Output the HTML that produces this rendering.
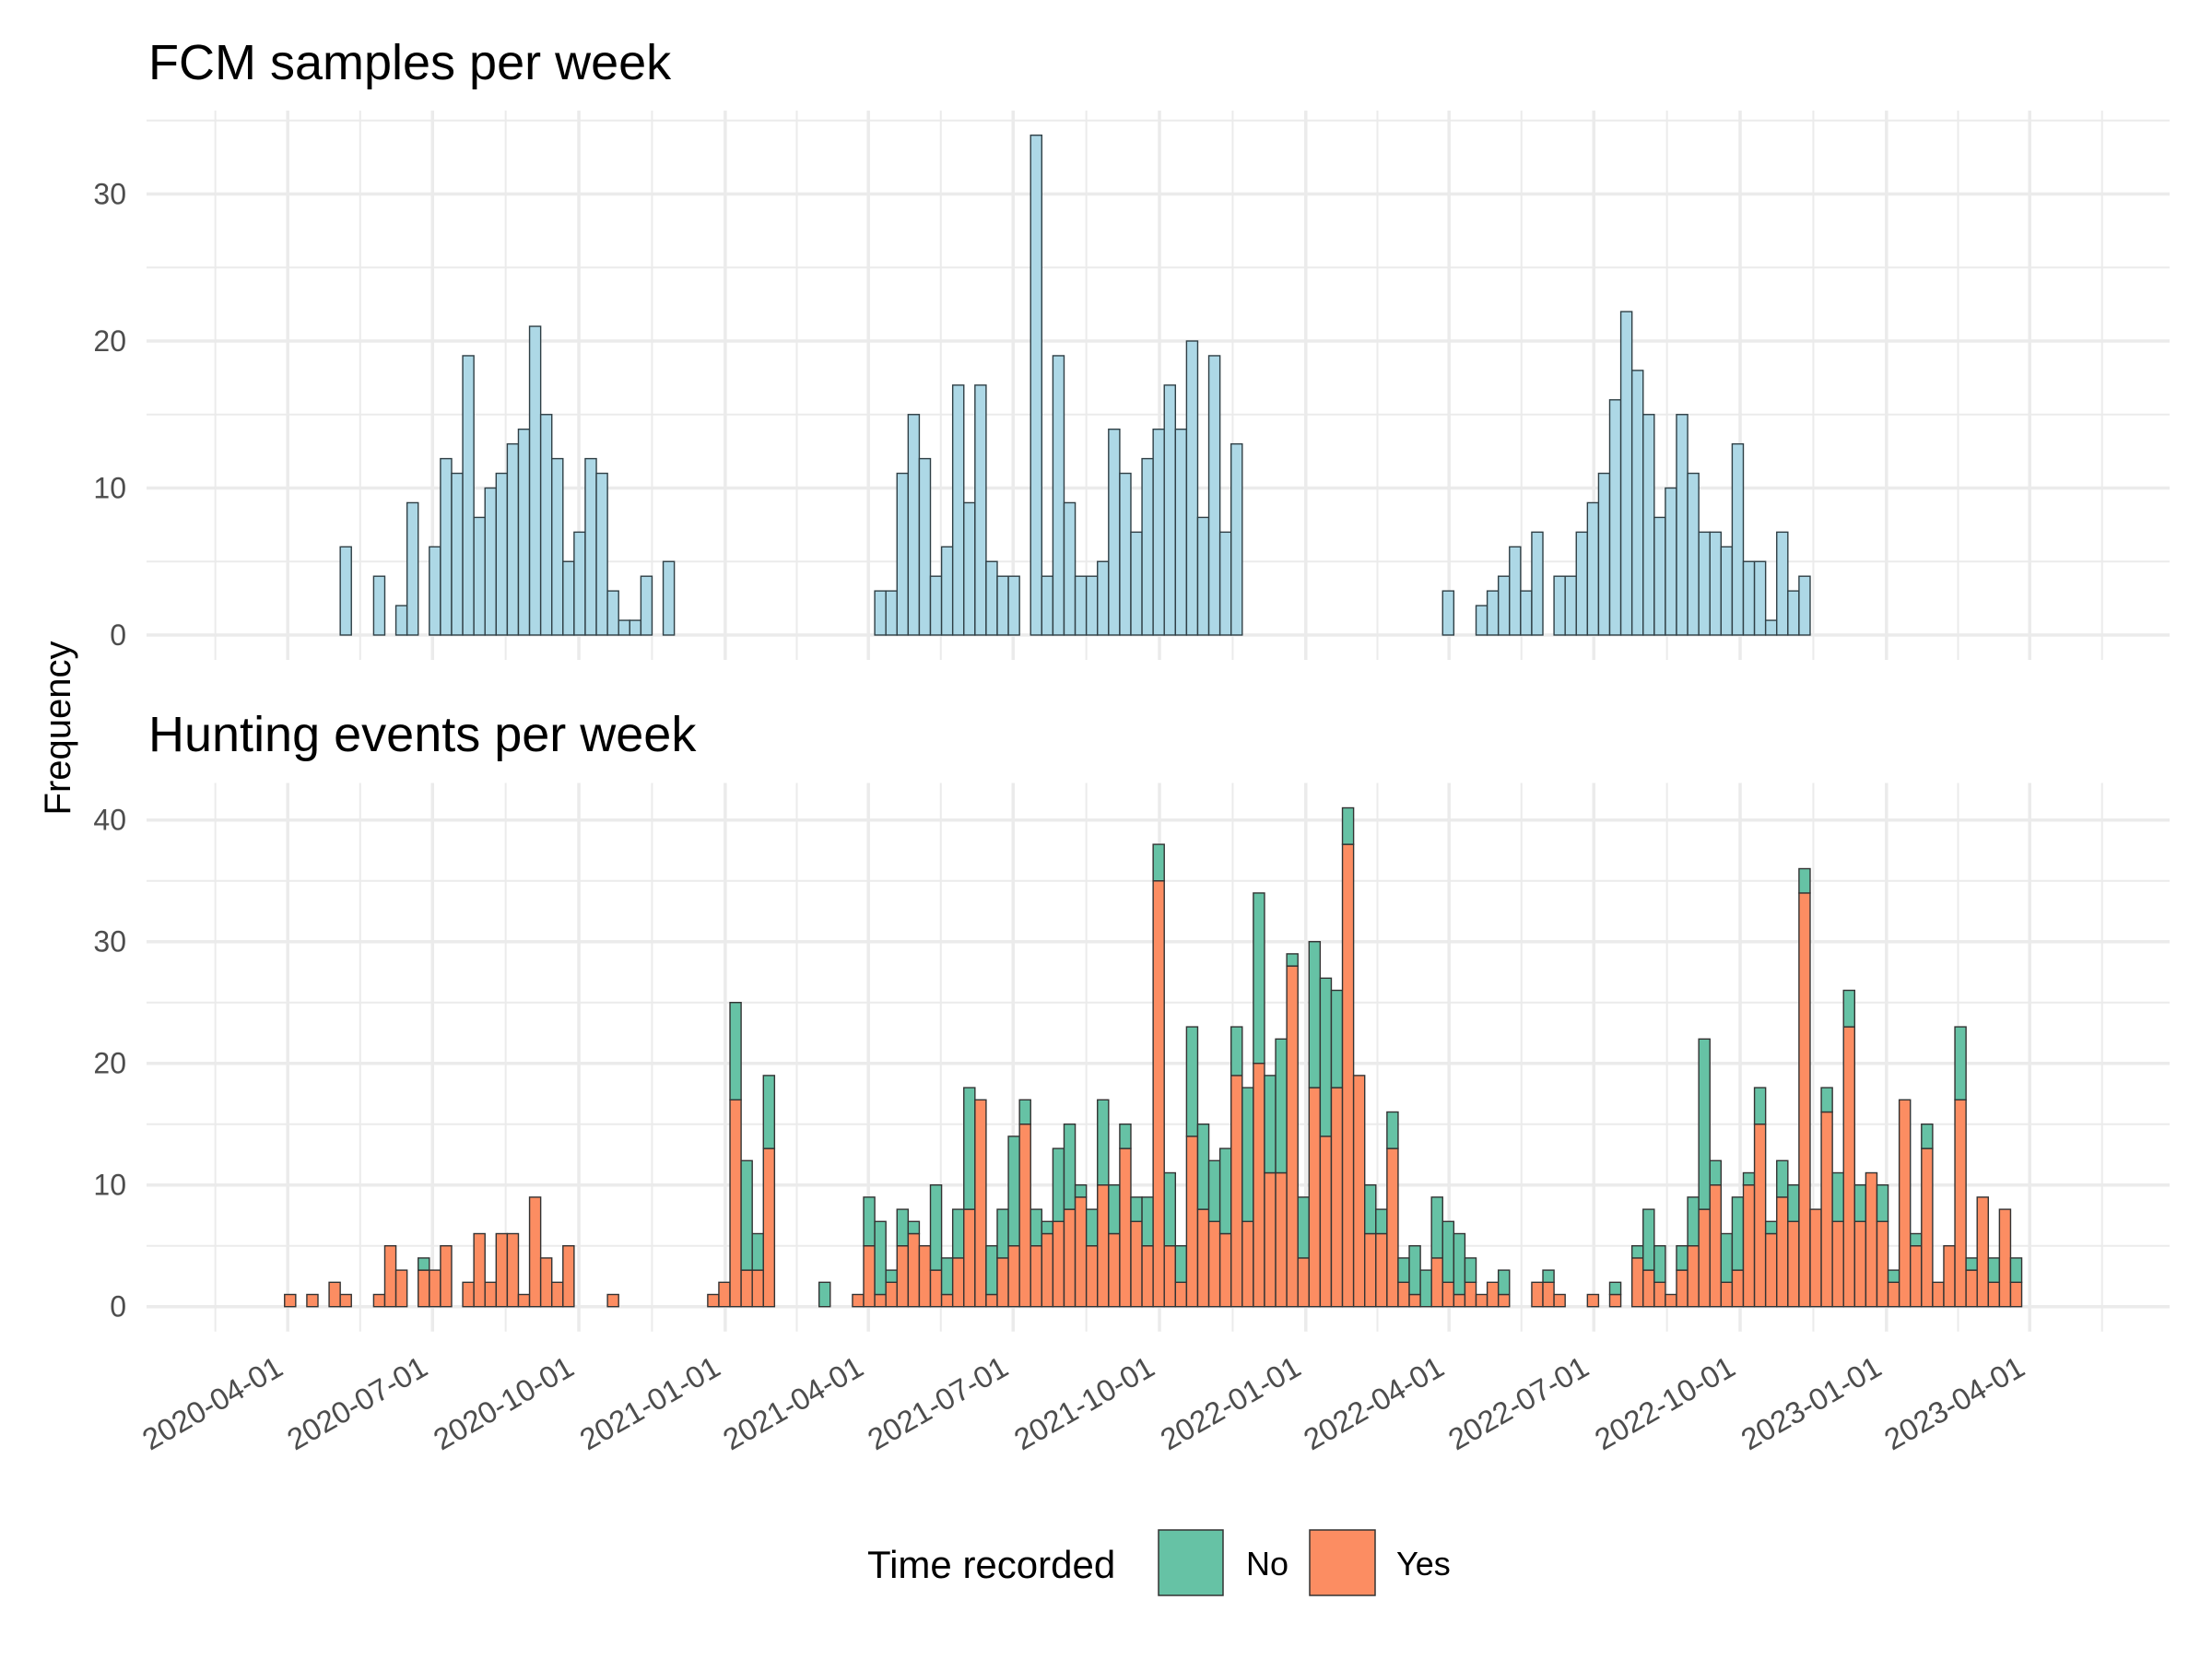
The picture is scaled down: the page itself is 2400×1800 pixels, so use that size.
<!DOCTYPE html>
<html>
<head>
<meta charset="utf-8">
<style>
  html, body { margin:0; padding:0; background:#fff; }
  svg { display:block; }
  text { font-family: "Liberation Sans", Arial, sans-serif; }
</style>
</head>
<body>
<svg id="chart" width="2400" height="1800" viewBox="0 0 2400 1800" xmlns="http://www.w3.org/2000/svg">
  <rect x="0" y="0" width="2400" height="1800" fill="#ffffff"/>
  <g id="grid-top"></g>
  <g id="grid-bot"></g>
  <g id="bars-top"></g>
  <g id="bars-bot"></g>
  <g id="axes"></g>
  <text x="161" y="86" font-size="54" fill="#000">FCM samples per week</text>
  <text x="161" y="815" font-size="54" fill="#000">Hunting events per week</text>
  <text x="0" y="0" font-size="40" fill="#000" text-anchor="middle" transform="translate(76,790) rotate(-90)">Frequency</text>
  <g>
    <text x="941" y="1712" font-size="42" fill="#000">Time recorded</text>
    <rect x="1257" y="1660" width="70" height="71" fill="#66c2a5" stroke="#333" stroke-width="1.5"/>
    <text x="1352" y="1709" font-size="36" fill="#000">No</text>
    <rect x="1421" y="1660" width="71" height="71" fill="#fc8d62" stroke="#333" stroke-width="1.5"/>
    <text x="1515" y="1709" font-size="36" fill="#000">Yes</text>
  </g>
</svg>
<script>
// ---- data ----
const fcmStartDate = "2020-05-04";
const fcmCounts = [6,0,0,4,0,2,9,0,6,12,11,19,8,10,11,13,14,21,15,12,5,7,12,11,3,1,1,4,0,5,
  0,0,0,0,0,0,0,0,0,0,0,0,0,0,0,0,0,0,
  3,3,11,15,12,4,6,17,9,17,5,4,4,0,34,4,19,9,4,4,5,14,11,7,12,14,17,14,20,8,19,7,13,
  0,0,0,0,0,0,0,0,0,0,0,0,0,0,0,0,0,0,
  3,0,0,2,3,4,6,3,7,0,4,4,7,9,11,16,22,18,15,8,10,15,11,7,7,6,13,5,5,1,7,3,4];

const huntStartDate = "2020-03-30";
const huntTotal = [1,0,1,0,2,1,0,0,1,5,3,0,4,3,5,0,2,6,2,6,6,1,9,4,2,5,0,0,0,1,
  0,0,0,0,0,0,0,0,1,2,25,12,6,19,0,0,0,0,2,0,0,1,9,7,3,8,7,5,10,4,
  8,18,17,5,8,14,17,8,7,13,15,10,8,17,10,15,9,9,38,11,5,23,15,12,13,23,18,34,19,22,
  29,9,30,27,26,41,19,10,8,16,4,5,3,9,7,6,4,1,2,3,0,0,2,3,1,0,0,1,0,2,
  0,5,8,5,1,5,9,22,12,6,9,11,18,7,12,10,36,8,18,11,26,10,11,10,3,17,6,15,2,5,
  23,4,9,4,8,4];
const huntYes = [1,0,1,0,2,1,0,0,1,5,3,0,3,3,5,0,2,6,2,6,6,1,9,4,2,5,0,0,0,1,
  0,0,0,0,0,0,0,0,1,2,17,3,3,13,0,0,0,0,0,0,0,1,5,1,2,5,6,5,3,1,
  4,8,17,1,4,5,15,5,6,7,8,9,5,10,6,13,7,5,35,5,2,14,8,7,6,19,7,20,11,11,
  28,4,18,14,18,38,19,6,6,13,2,1,0,4,2,1,2,1,2,1,0,0,2,2,1,0,0,1,0,1,
  0,4,3,2,1,3,5,8,10,2,3,10,15,6,9,7,34,8,16,7,23,7,11,7,2,17,5,13,2,5,
  17,3,9,2,8,2];

const majorTickDates = ["2020-04-01","2020-07-01","2020-10-01","2021-01-01","2021-04-01","2021-07-01",
  "2021-10-01","2022-01-01","2022-04-01","2022-07-01","2022-10-01","2023-01-01","2023-04-01"];
const topYTicks = [0,10,20,30];
const botYTicks = [0,10,20,30,40];

// ---- scales ----
const NS = "http://www.w3.org/2000/svg";
const REF = Date.UTC(2020,3,1);
function dayOf(s){ const p=s.split("-").map(Number); return (Date.UTC(p[0],p[1]-1,p[2])-REF)/86400000; }
function xDay(d){ return 312.2 + d*1.726; }
function yTop(v){ return 689 - v*15.95; }
function yBot(v){ return 1417.7 - v*13.2; }
const PL = 159, PR = 2354;
const topPanel = {y0:120, y1:716};
const botPanel = {y0:849.5, y1:1444.8};

function mk(tag, attrs, parent){
  const el = document.createElementNS(NS, tag);
  for (const k in attrs) el.setAttribute(k, attrs[k]);
  parent.appendChild(el);
  return el;
}

// ---- grid ----
const majorDays = majorTickDates.map(dayOf);
const minorDays = [];
minorDays.push(majorDays[0] - (majorDays[1]-majorDays[0])/2);
for (let i=0;i<majorDays.length-1;i++) minorDays.push((majorDays[i]+majorDays[i+1])/2);
minorDays.push(majorDays[majorDays.length-1] + (majorDays[1]-majorDays[0])/2);

function drawGrid(g, panel, yfn, ticks){
  const step = ticks[1]-ticks[0];
  for (let i=0;i<ticks.length;i++){
    const mv = ticks[i] + step/2;
    const ym = yfn(mv);
    if (ym > panel.y0) {
      const l = mk("line",{x1:PL,x2:PR,y1:ym,y2:ym,stroke:"#ebebeb","stroke-width":2},g);
      
      
    }
  }
  ticks.forEach(v=>{
    const y = yfn(v);
    const l = mk("line",{x1:PL,x2:PR,y1:y,y2:y,stroke:"#ebebeb","stroke-width":3.5},g);
    
    
  });
  minorDays.forEach(d=>{
    const x = xDay(d);
    const l = mk("line",{x1:x,x2:x,y1:panel.y0,y2:panel.y1,stroke:"#ebebeb","stroke-width":2},g);
    
    
  });
  majorDays.forEach(d=>{
    const x = xDay(d);
    const l = mk("line",{x1:x,x2:x,y1:panel.y0,y2:panel.y1,stroke:"#ebebeb","stroke-width":3.5},g);
    
    
  });
}
drawGrid(document.getElementById("grid-top"), topPanel, yTop, topYTicks);
drawGrid(document.getElementById("grid-bot"), botPanel, yBot, botYTicks);

// ---- bars ----
const gt = document.getElementById("bars-top");
const fcm0 = dayOf(fcmStartDate);
fcmCounts.forEach((v,i)=>{
  if (v<=0) return;
  const x0 = xDay(fcm0 + i*7), x1 = xDay(fcm0 + (i+1)*7);
  const r = mk("rect",{x:x0,y:yTop(v),width:x1-x0,height:yTop(0)-yTop(v),fill:"#add8e6",stroke:"#2f3f45","stroke-width":1.4},gt);
  
  
});

const gb = document.getElementById("bars-bot");
const hunt0 = dayOf(huntStartDate);
huntTotal.forEach((tot,i)=>{
  if (tot<=0) return;
  const yes = huntYes[i];
  const no = tot - yes;
  const x0 = xDay(hunt0 + i*7), x1 = xDay(hunt0 + (i+1)*7);
  if (yes>0){
    const r = mk("rect",{x:x0,y:yBot(yes),width:x1-x0,height:yBot(0)-yBot(yes),fill:"#fc8d62",stroke:"#333","stroke-width":1.4},gb);
    
    
  }
  if (no>0){
    const r = mk("rect",{x:x0,y:yBot(tot),width:x1-x0,height:yBot(yes)-yBot(tot),fill:"#66c2a5",stroke:"#333","stroke-width":1.4},gb);
    
    
  }
});

// ---- axis labels ----
const ga = document.getElementById("axes");
topYTicks.forEach(v=>{
  const t = mk("text",{x:137,y:yTop(v)+11,"font-size":32,fill:"#4d4d4d","text-anchor":"end"},ga);
  t.textContent = v;
  
  
});
botYTicks.forEach(v=>{
  const t = mk("text",{x:137,y:yBot(v)+11,"font-size":32,fill:"#4d4d4d","text-anchor":"end"},ga);
  t.textContent = v;
  
  
});
majorTickDates.forEach((s,i)=>{
  const x = xDay(majorDays[i]) - 3, y = 1490;
  const t = mk("text",{x:x,y:y,"font-size":33,fill:"#4d4d4d","text-anchor":"end",transform:"rotate(-30 "+x+" "+y+")"},ga);
  t.textContent = s;
  
  
});
</script>
</body>
</html>
